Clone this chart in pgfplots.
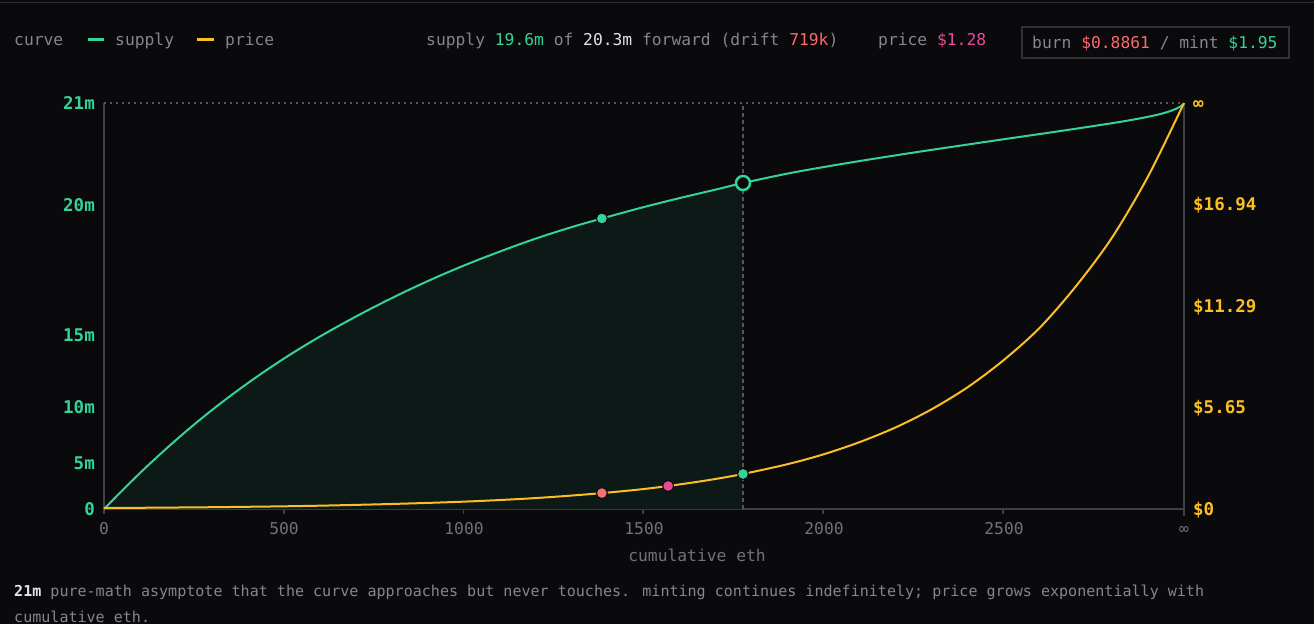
\documentclass[border=0pt]{standalone}
\usepackage{pgfplots}
\pgfplotsset{compat=1.18}
\usepackage{fontspec}
\setmainfont{DejaVu Sans Mono}
\definecolor{bg}{HTML}{0A0A0C}
\definecolor{areac}{HTML}{0D1916}
\definecolor{axg}{HTML}{3F3F46}
\definecolor{dotg}{HTML}{55555C}
\definecolor{tickg}{HTML}{71717A}
\definecolor{txtg}{HTML}{858590}
\definecolor{grn}{HTML}{34D399}
\definecolor{amb}{HTML}{FBBF24}
\definecolor{redc}{HTML}{FB6A6A}
\definecolor{pinkc}{HTML}{EC4899}
\definecolor{salm}{HTML}{F87171}
\definecolor{wht}{HTML}{E4E4E7}
\definecolor{topl}{HTML}{2E2E33}
\definecolor{boxb}{HTML}{313137}
\newcommand\hdrfont{\fontsize{16.3bp}{19bp}\selectfont}
\newcommand\ftfont{\fontsize{15.05bp}{18bp}\selectfont}
\newcommand\tlfont{\fontsize{16.3bp}{19bp}\selectfont}
\newcommand\ylfont{\fontsize{17.5bp}{20bp}\selectfont\bfseries}

% supply, in the chart's display units (0 = 0, 406 = 21m asymptote)
\pgfplotstableread{
x y
0 0
100 36
200 69
300 99
400 126
500 150.5
600 172.5
700 192.5
800 211
900 228
1000 243.5
1100 257.5
1200 270.5
1300 282
1383 290.5
1500 302
1600 311
1700 319.5
1775 326
1900 335.5
2000 342
2100 348
2200 353.7
2300 359.2
2400 364.5
2500 369.8
2600 375
2700 380.3
2800 385.8
2850 388.8
2900 392.2
2940 395.5
2970 399
2990 402.5
3000 405.5
}\supply
\pgfplotstableread{
x y
0 0
100 36
200 69
300 99
400 126
500 150.5
600 172.5
700 192.5
800 211
900 228
1000 243.5
1100 257.5
1200 270.5
1300 282
1383 290.5
1500 302
1600 311
1700 319.5
1775 326
}\supplyfill
\pgfplotstableread{
x y
0 0.056
100 0.068
200 0.083
300 0.10
400 0.124
500 0.15
600 0.185
700 0.23
800 0.28
900 0.34
1000 0.41
1100 0.50
1200 0.61
1300 0.75
1383 0.8861
1480 1.07
1567 1.28
1680 1.61
1775 1.95
1900 2.50
2000 3.05
2100 3.73
2200 4.55
2300 5.56
2400 6.79
2500 8.30
2600 10.1
2700 12.4
2800 15.1
2900 18.5
3000 22.59
}\price

\begin{document}
\begin{tikzpicture}
\begin{scope}[x=1bp,y=-1bp]
\useasboundingbox (0,0) rectangle (1314,624);
\fill[bg] (0,0) rectangle (1314,624);
\draw[topl, line width=1.5bp] (0,2.5) -- (1314,2.5);
% frame
\draw[axg, line width=1.5bp] (104,103) -- (104,514);
\draw[axg, line width=1.5bp] (1184,103) -- (1184,516);
\draw[axg, line width=1.5bp] (104,509) -- (1184,509);
\foreach \xx in {284,463.5,643,823,1003} {\draw[axg, line width=1.5bp] (\xx,509) -- (\xx,514);}
\draw[dotg, line width=1.2bp, dash pattern=on 2bp off 4bp] (104,103) -- (1184,103);
\end{scope}

\begin{axis}[
  at={(104bp,-509bp)}, anchor=south west,
  width=1080bp, height=406bp, scale only axis,
  xmin=0, xmax=3000, ymin=0, ymax=406,
  clip=false,
  axis line style={draw=none}, tick style={draw=none}, major tick length=0pt,
  xtick={0,500,1000,1500,2000,2500,3000},
  xticklabels={0,500,1000,1500,2000,2500,∞},
  ytick={0,46,102,174,304,406},
  yticklabels={0,5m,10m,15m,20m,21m},
  xticklabel style={anchor=base, inner sep=0pt, yshift=-25bp, font=\tlfont, text=tickg},
  yticklabel style={anchor=base east, inner sep=0pt, xshift=-9bp, yshift=-6.4bp, font=\ylfont, text=grn},
]
\addplot[fill=areac, draw=none, smooth, tension=0.6] table[x=x,y=y] {\supplyfill} \closedcycle;
\draw[dotg, line width=1.2bp, dash pattern=on 4bp off 3bp] (axis cs:1775,0) -- (axis cs:1775,406);
\addplot[grn, line width=2bp, smooth, tension=0.6] table[x=x,y=y] {\supply};
\addplot[only marks, mark=*, mark size=5.5bp, mark options={fill=grn, draw=bg, line width=1bp}] coordinates {(1383,290.5)};
\addplot[only marks, mark=*, mark size=7bp, mark options={fill=bg, draw=grn, line width=2.5bp}] coordinates {(1775,326)};
\end{axis}

\begin{axis}[
  at={(104bp,-509bp)}, anchor=south west,
  width=1080bp, height=406bp, scale only axis,
  xmin=0, xmax=3000, ymin=0, ymax=22.59,
  clip=false,
  axis line style={draw=none}, tick style={draw=none}, major tick length=0pt,
  xtick=\empty,
  ytick={0,5.65,11.29,16.94,22.59},
  yticklabels={\$0,\$5.65,\$11.29,\$16.94,∞},
  yticklabel pos=right,
  yticklabel style={anchor=base west, inner sep=0pt, xshift=9bp, yshift=-6.4bp, font=\ylfont, text=amb},
]
\addplot[amb, line width=2bp, smooth, tension=0.5] table[x=x,y=y] {\price};
\addplot[only marks, mark=*, mark size=5.5bp, mark options={fill=salm, draw=bg, line width=1bp}] coordinates {(1383,0.8861)};
\addplot[only marks, mark=*, mark size=5.5bp, mark options={fill=pinkc, draw=bg, line width=1bp}] coordinates {(1567,1.28)};
\addplot[only marks, mark=*, mark size=5.5bp, mark options={fill=grn, draw=bg, line width=1bp}] coordinates {(1775,1.95)};
\end{axis}

\begin{scope}[x=1bp,y=-1bp]
% header
\node[anchor=base west, inner sep=0pt, font=\hdrfont, text=txtg] at (14,45.5) {curve};
\draw[grn, line width=3bp] (88,40) -- (104,40);
\node[anchor=base west, inner sep=0pt, font=\hdrfont, text=txtg] at (115,45.5) {supply};
\draw[amb, line width=3bp] (197,40) -- (214,40);
\node[anchor=base west, inner sep=0pt, font=\hdrfont, text=txtg] at (225,45.5) {price};
\node[anchor=base west, inner sep=0pt, font=\hdrfont, text=txtg] at (426,45.5) {supply \textcolor{grn}{19.6m} of \textcolor{wht}{20.3m} forward (drift \textcolor{redc}{719k})};
\node[anchor=base west, inner sep=0pt, font=\hdrfont, text=txtg] at (878,45.5) {price \textcolor{pinkc}{\$1.28}};
\draw[boxb, line width=1.2bp, fill=bg] (1022,27) rectangle (1289,58);
\node[anchor=base west, inner sep=0pt, font=\hdrfont, text=txtg] at (1032,48.5) {burn \textcolor{redc}{\$0.8861} / mint \textcolor{grn}{\$1.95}};
% x label
\node[anchor=base, inner sep=0pt, font=\tlfont, text=tickg] at (697,561) {cumulative eth};
% footer
\node[anchor=base west, inner sep=0pt, font=\ftfont, text=txtg] at (14,596.5) {\textcolor{wht}{\bfseries 21m} pure-math asymptote that the curve approaches but never touches. minting continues indefinitely; price grows exponentially with};
\node[anchor=base west, inner sep=0pt, font=\ftfont, text=txtg] at (14,622.5) {cumulative eth.};
\end{scope}
\end{tikzpicture}
\end{document}
